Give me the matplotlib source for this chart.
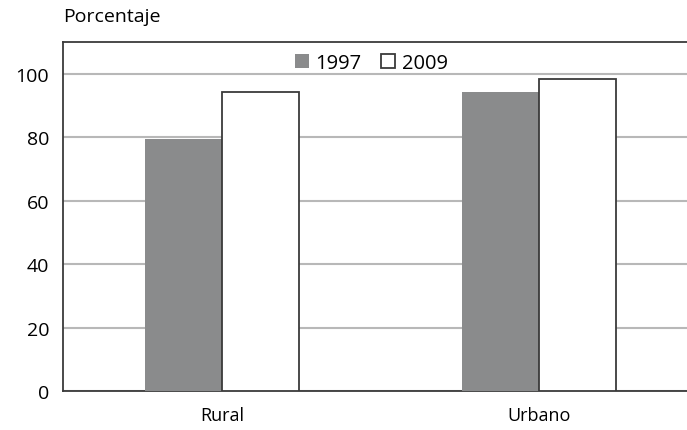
import numpy as np
import matplotlib.pyplot as plt

categories = ["Rural", "Urbano"]
years = ["1997", "2009"]
values_1997 = [79.4, 94.2]
values_2009 = [94.2, 98.2]

plt.rcParams['font.family'] = ['Open Sans', 'DejaVu Sans']

fig = plt.figure(figsize=(6.87, 4.31), dpi=100)
ax = fig.add_axes([63 / 687, 39 / 431, 624 / 687, 349 / 431])

x = np.arange(len(categories))
w = 0.243
ax.bar(x - w / 2, values_1997, w, color="#8a8b8c", edgecolor="none",
       label=years[0], zorder=3)
ax.bar(x + w / 2, values_2009, w, color="white", edgecolor="#3a3a3a",
       linewidth=1.3, label=years[1], zorder=3)

ax.set_xlim(-0.502, 1.467)
ax.set_ylim(0, 110)
ax.set_yticks([0, 20, 40, 60, 80, 100])
ax.set_xticks(x)
ax.set_xticklabels(categories, fontsize=13)
ax.tick_params(axis="y", labelsize=14, length=0, pad=10)
ax.tick_params(axis="x", length=0, pad=11)
ax.grid(axis="y", color="#b8b8b8", linewidth=1.5, zorder=0)

for side in ["left", "top", "bottom"]:
    ax.spines[side].set_color("#3a3a3a")
    ax.spines[side].set_linewidth(1.3)
ax.spines["right"].set_visible(False)

fig.text(63 / 687, 1 - 17 / 431, "Porcentaje", fontsize=14, va="center", ha="left")

ax.legend(loc="upper center", bbox_to_anchor=(0.494, 1.02), ncol=2, frameon=False,
          fontsize=14.5, handlelength=0.7, handleheight=0.7, handletextpad=0.3,
          columnspacing=1.0)

plt.savefig("out.png", dpi=100)
